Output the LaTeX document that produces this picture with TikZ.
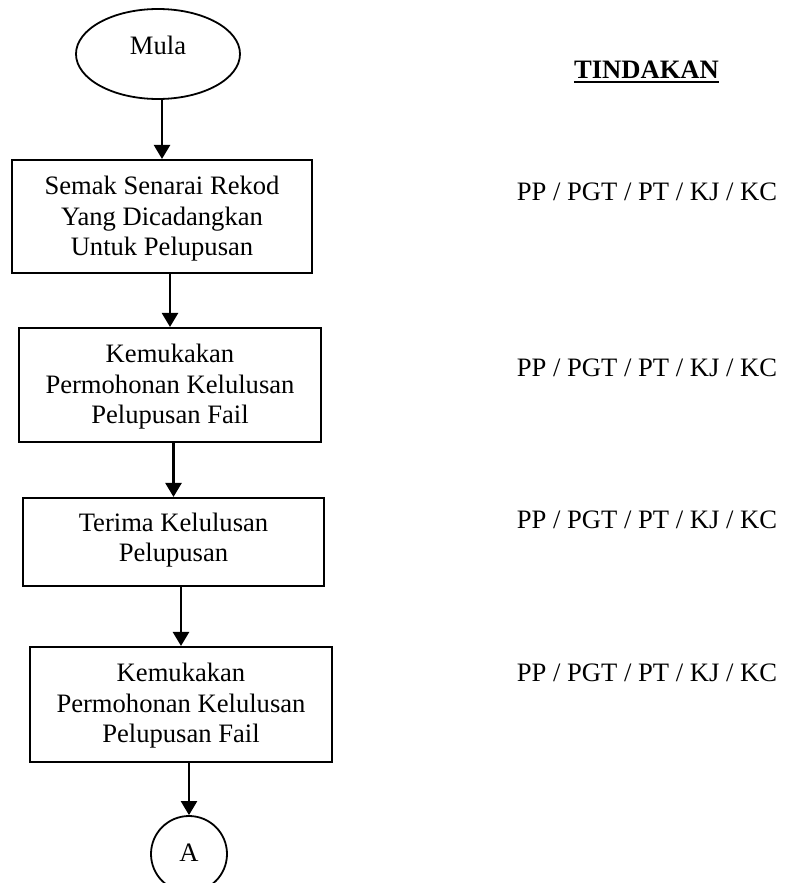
\documentclass[tikz,border=0pt]{standalone}
\usepackage{fontspec}
\setmainfont{Liberation Serif}
\usetikzlibrary{shapes.geometric,arrows.meta}
\begin{document}
\begin{tikzpicture}[x=1pt,y=-1pt,
  txt/.style={font=\fontsize{26.6}{30.5}\selectfont, align=center, inner sep=0pt},
  stepbox/.style={txt, draw, line width=2.1pt, inner sep=0pt},
  arr/.style={line width=2.4pt, -{Triangle[width=16pt,length=14pt]}},
]
\useasboundingbox (0,0) rectangle (794,883);
% start
\node[ellipse, draw, line width=1.8pt, minimum width=164pt, minimum height=90pt, inner sep=0pt] (start) at (158,54) {};
\node[txt] (startlbl) at (158,45) {Mula};
% boxes
\node[stepbox, minimum width=300pt, minimum height=113pt] (b1) at (162,216.5) {};
\node[txt] (t1) at (162,219) {Semak Senarai Rekod\\Yang Dicadangkan\\Untuk Pelupusan};
\node[stepbox, minimum width=302pt, minimum height=114pt] (b2) at (170,385) {};
\node[txt] (t2) at (170,387) {Kemukakan\\Permohonan Kelulusan\\Pelupusan Fail};
\node[stepbox, minimum width=301pt, minimum height=88pt] (b3) at (173.5,542) {};
\node[txt] (t3) at (173.5,540) {Terima Kelulusan\\Pelupusan};
\node[stepbox, minimum width=302pt, minimum height=115pt] (b4) at (181,704.5) {};
\node[txt] (t4) at (181,706) {Kemukakan\\Permohonan Kelulusan\\Pelupusan Fail};
% connector A
\node[circle, draw, line width=1.8pt, minimum size=76pt, inner sep=0pt] (A) at (189,854) {};
\node[txt] (Albl) at (189,853) {A};
% arrows
\draw[arr] (b1.north |- start.south) -- (b1.north);
\draw[arr] (b2.north |- b1.south) -- (b2.north);
\draw[arr] (b3.north |- b2.south) -- (b3.north);
\draw[arr] (b4.north |- b3.south) -- (b4.north);
\draw[arr] (A.north |- b4.south) -- (A.north);
% actions column
\node[txt, font=\fontsize{26.6}{30.5}\selectfont\bfseries] (tind) at (646.5,70) {TINDAKAN};
\draw[line width=2pt] ([yshift=-3.5pt]tind.base west) -- ([yshift=-3.5pt]tind.base east);
\node[txt] (a1) at (647,192) {PP / PGT / PT / KJ / KC};
\node[txt] (a2) at (647,368) {PP / PGT / PT / KJ / KC};
\node[txt] (a3) at (647,520) {PP / PGT / PT / KJ / KC};
\node[txt] (a4) at (647,673) {PP / PGT / PT / KJ / KC};
\end{tikzpicture}
\end{document}
